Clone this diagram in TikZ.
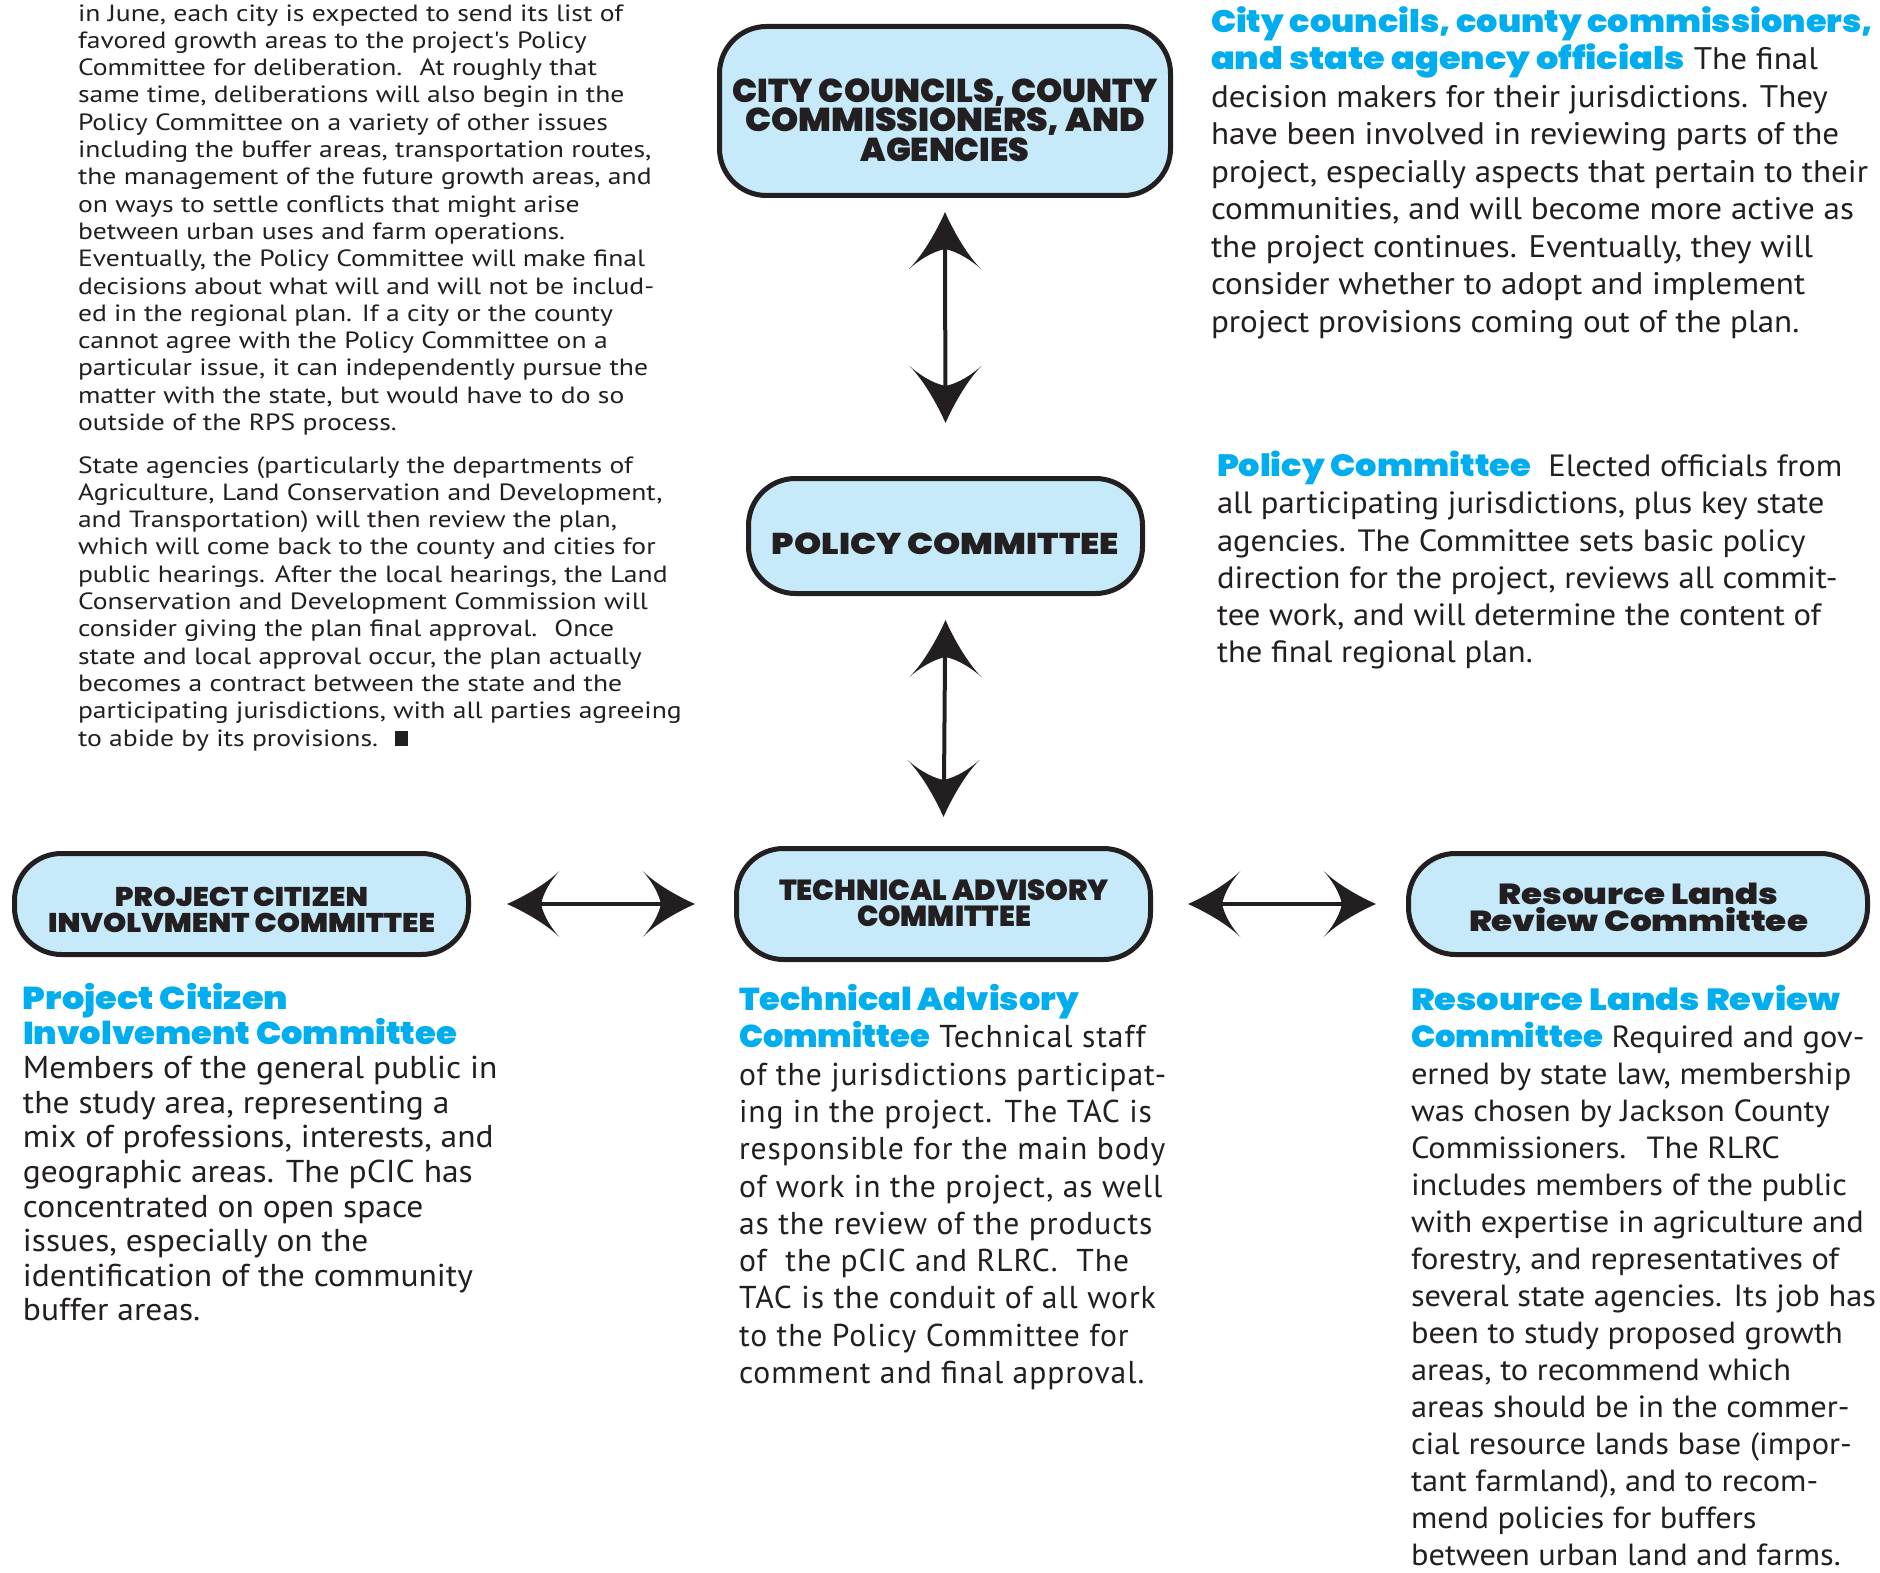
\documentclass[tikz,border=0pt]{standalone}
\usepackage{fontspec}
\usepackage{graphicx}
\usetikzlibrary{calc}
\setmainfont{PT Sans}[FakeStretch=1.06]
\newfontfamily\leftfont{PT Sans}[FakeStretch=1.175]
\newfontfamily\tacfont{PT Sans}[LetterSpace=3]
\IfFontExistsTF{Poppins Black}{\newfontfamily\heavy{Poppins Black}}{%
    \newfontfamily\heavyx{Poppins}[BoldFeatures={FakeBold=1.6}]\newcommand\heavy{\heavyx\bfseries}}
\definecolor{ink}{HTML}{231F20}
\definecolor{boxblue}{HTML}{C6EAF9}
\definecolor{hblue}{HTML}{00AEEF}
\setlength\lineskiplimit{-100pt}
\setlength\lineskip{0pt}
\newcommand\fw[2]{\resizebox{#1pt}{\height}{#2}}
\newcommand\hb[2]{{\heavy\color{hblue}\fw{#1}{#2}}}
\newcommand\hstrut{\rule{0pt}{0.7\baselineskip}}
\tikzset{
  every node/.style={inner sep=0pt, outer sep=0pt},
  box/.style={draw=ink, line width=5pt, fill=boxblue, rounded corners=47pt},
  boxlabel/.style={anchor=north, align=center, text=ink},
  body/.style={anchor=north west, align=left, text=ink},
  shaft/.style={draw=ink, line width=4pt},
  swepthead/.pic={
    \fill[ink] (0,0) .. controls (-16,7) and (-42,21) .. (-57,36)
      .. controls (-49,27) and (-40,14) .. (-37,0)
      .. controls (-40,-14) and (-49,-27) .. (-57,-36)
      .. controls (-42,-21) and (-16,-7) .. (0,0) -- cycle;
  }
}
\begin{document}
\begin{tikzpicture}[x=1pt,y=-1pt]
\fill[white] (0,0) rectangle (1880,1573);
\useasboundingbox (0,0) rectangle (1880,1573);

% ---------- boxes ----------
\node[box, minimum width=451pt, minimum height=169pt] (top) at (945,111) {};
\node[box, minimum width=394pt, minimum height=115pt] (pol) at (945.5,536) {};
\node[box, minimum width=414pt, minimum height=111pt] (tac) at (943.5,904) {};
\node[box, minimum width=454pt, minimum height=101pt] (pcic) at (241.5,904) {};
\node[box, minimum width=459pt, minimum height=101pt] (rlrc) at (1638,904) {};

% ---------- box labels ----------
\node[boxlabel, font={\heavy\fontsize{33}{29.5}\selectfont}] (topl) at (945,78.4)
  {\strut\fw{425}{CITY COUNCILS, COUNTY}\\\strut\fw{400}{COMMISSIONERS, AND}\\\strut\fw{169}{AGENCIES}};
\node[boxlabel, font={\heavy\fontsize{30}{30}\selectfont}] (poll) at (945.5,532.5)
  {\strut\fw{347}{POLICY COMMITTEE}};
\node[boxlabel, font={\heavy\fontsize{29}{26}\selectfont}] (tacl) at (944,879.7)
  {\strut\fw{330}{TECHNICAL ADVISORY}\\\strut\fw{174}{COMMITTEE}};
\node[boxlabel, font={\heavy\fontsize{27}{26}\selectfont}] (pcicl) at (241.5,886.6)
  {\strut\fw{253}{PROJECT CITIZEN}\\\strut\fw{387}{INVOLVMENT COMMITTEE}};
\node[boxlabel, font={\heavy\fontsize{29}{27}\selectfont}] (rlrcl) at (1638.5,882.7)
  {\strut\fw{280}{Resource Lands}\\\strut\fw{339}{Review Committee}};

% ---------- connectors ----------
\draw[shaft, shorten <=46pt, shorten >=85pt] (top.south) -- (pol.north);
\pic[rotate=90] at ($(top.south)+(0,16.5)$) {swepthead};
\pic[rotate=-90] at ($(pol.north)+(0,-55.5)$) {swepthead};

\draw[shaft, shorten <=56pt, shorten >=61pt] (pol.south) -- (tac.north);
\pic[rotate=90] at ($(pol.south)+(0,26.5)$) {swepthead};
\pic[rotate=-90] at ($(tac.north)+(0,-31.5)$) {swepthead};

\draw[shaft, shorten <=66pt, shorten >=69pt] (pcic.east) -- (tac.west);
\pic[rotate=180, scale=0.92] at ($(pcic.east)+(38.5,0)$) {swepthead};
\pic[scale=0.92] at ($(tac.west)+(-41.5,0)$) {swepthead};

\draw[shaft, shorten <=65pt, shorten >=60pt] (tac.east) -- (rlrc.west);
\pic[rotate=180, scale=0.92] at ($(tac.east)+(37.5,0)$) {swepthead};
\pic[scale=0.92] at ($(rlrc.west)+(-32.5,0)$) {swepthead};

% ---------- left column ----------
\node[body, font={\leftfont\fontsize{23.5}{27.3}\selectfont}] (lefta) at (78,1.9) {%
\strut in June, each city is expected to send its list of\\
\strut favored growth areas to the project's Policy\\
\strut Committee for deliberation.~ At roughly that\\
\strut same time, deliberations will also begin in the\\
\strut Policy Committee on a variety of other issues\\
\strut including the buffer areas, transportation routes,\\
\strut the management of the future growth areas, and\\
\strut on ways to settle conflicts that might arise\\
\strut between urban uses and farm operations.\\
\strut Eventually, the Policy Committee will make final\\
\strut decisions about what will and will not be includ-\\
\strut ed in the regional plan. If a city or the county\\
\strut cannot agree with the Policy Committee on a\\
\strut particular issue, it can independently pursue the\\
\strut matter with the state, but would have to do so\\
\strut outside of the RPS process.};

\node[body, font={\leftfont\fontsize{23.5}{27.3}\selectfont}] (leftb) at (78,453.9) {%
\strut State agencies (particularly the departments of\\
\strut Agriculture, Land Conservation and Development,\\
\strut and Transportation) will then review the plan,\\
\strut which will come back to the county and cities for\\
\strut public hearings. After the local hearings, the Land\\
\strut Conservation and Development Commission will\\
\strut consider giving the plan final approval.~ Once\\
\strut state and local approval occur, the plan actually\\
\strut becomes a contract between the state and the\\
\strut participating jurisdictions, with all parties agreeing\\
\strut to abide by its provisions.~ \rule{13pt}{15pt}};

% ---------- right column ----------
\node[body, font={\fontsize{31.2}{37.5}\selectfont}] (trtext) at (1211,6.15) {%
\strut\hb{662}{City councils, county commissioners,}\\
\strut\hb{474}{and state agency officials} The final\\
\strut decision makers for their jurisdictions. They\\
\strut have been involved in reviewing parts of the\\
\strut project, especially aspects that pertain to their\\
\strut communities, and will become more active as\\
\strut the project continues. Eventually, they will\\
\strut consider whether to adopt and implement\\
\strut project provisions coming out of the plan.};

\node[body, font={\fontsize{30.8}{37.2}\selectfont}] (poltext) at (1217,450.6) {%
\strut\hb{314}{Policy Committee}~ Elected officials from\\
\strut all participating jurisdictions, plus key state\\
\strut agencies. The Committee sets basic policy\\
\strut direction for the project, reviews all commit-\\
\strut tee work, and will determine the content of\\
\strut the final regional plan.};

% ---------- bottom columns ----------
\node[body, font={\fontsize{31.6}{34.6}\selectfont}] (pcictext) at (23,983.2) {%
\strut\hb{265}{Project Citizen}\\
\strut\hb{434}{Involvement Committee}\\
\strut Members of the general public in\\
\strut the study area, representing a\\
\strut mix of professions, interests, and\\
\strut geographic areas. The pCIC has\\
\strut concentrated on open space\\
\strut issues, especially on the\\
\strut identification of the community\\
\strut buffer areas.};

\node[body, font={\tacfont\fontsize{31.6}{37.3}\selectfont}] (tactext) at (739,984.3) {%
\strut\hb{340}{Technical Advisory}\\
\strut\hb{191}{Committee} Technical staff\\
\strut of the jurisdictions participat-\\
\strut ing in the project. The TAC is\\
\strut responsible for the main body\\
\strut of work in the project, as well\\
\strut as the review of the products\\
\strut of~ the pCIC and RLRC.~ The\\
\strut TAC is the conduit of all work\\
\strut to the Policy Committee for\\
\strut comment and final approval.};

\node[body, font={\fontsize{30.6}{37}\selectfont}] (rlrctext) at (1411,984.1) {%
\strut\hb{429}{Resource Lands Review}\\
\strut\hb{192}{Committee} Required and gov-\\
\strut erned by state law, membership\\
\strut was chosen by Jackson County\\
\strut Commissioners.~ The RLRC\\
\strut includes members of the public\\
\strut with expertise in agriculture and\\
\strut forestry, and representatives of\\
\strut several state agencies. Its job has\\
\strut been to study proposed growth\\
\strut areas, to recommend which\\
\strut areas should be in the commer-\\
\strut cial resource lands base (impor-\\
\strut tant farmland), and to recom-\\
\strut mend policies for buffers\\
\hstrut between urban land and farms.};
\end{tikzpicture}
\end{document}
